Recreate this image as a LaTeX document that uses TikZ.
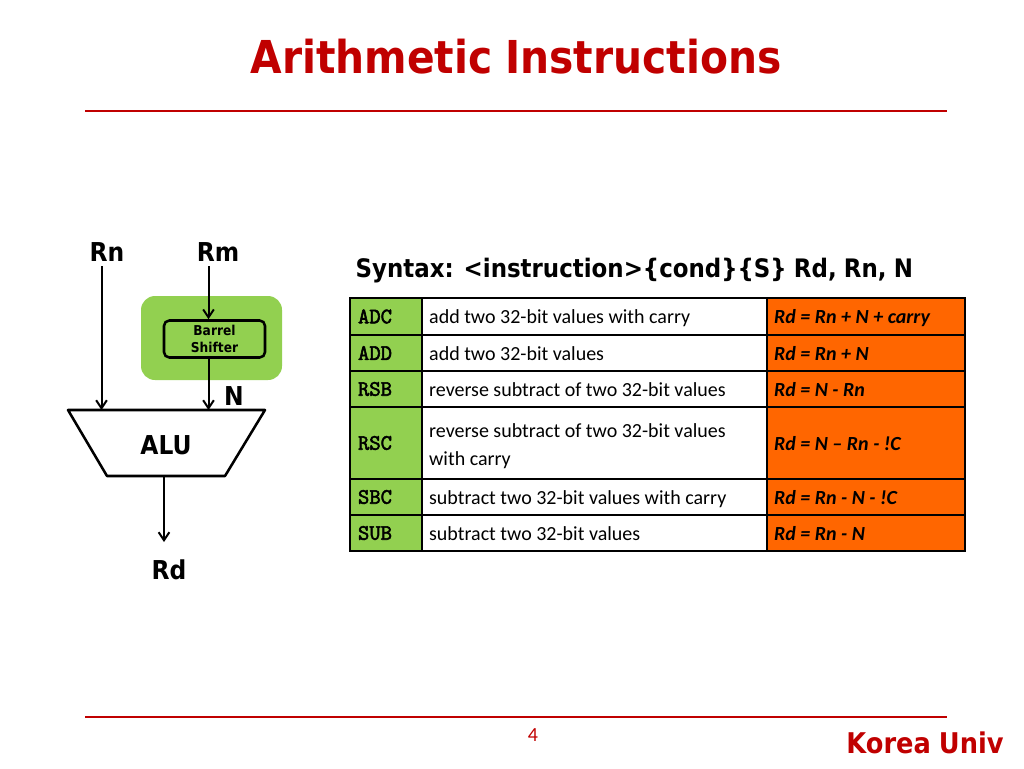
\documentclass[tikz,border=0pt]{standalone}
\usepackage{fontspec}
\setmainfont{Carlito}
\newfontfamily\labelfont{DejaVu Sans}[FakeStretch=0.9,WordSpace=0.9]
\newfontfamily\opcodefont{Latin Modern Mono}[FakeBold=2.5]
\usetikzlibrary{arrows.meta}
\definecolor{titlered}{RGB}{192,0,0}
\definecolor{shiftergreen}{RGB}{146,208,80}
\definecolor{resultorange}{RGB}{255,102,0}
\tikzset{
  sig/.style={line width=1.5pt,-{Straight Barb[length=6pt,width=8pt]}},
  sigplain/.style={line width=1.9pt},
  rulered/.style={color=titlered,line width=1.5pt},
  lbl/.style={font=\labelfont\bfseries\fontsize{19.5}{22}\selectfont},
  opcell/.style={draw=black,line width=0.8pt,fill=shiftergreen,minimum width=54pt,text width=42pt,align=flush left,inner sep=0pt,font=\opcodefont\fontsize{16.5}{18}\selectfont},
  desccell/.style={draw=black,line width=0.8pt,fill=white,minimum width=258.75pt,text width=248pt,align=flush left,inner sep=0pt,font=\fontsize{15}{21}\selectfont,execute at begin node={\rule[-3.5pt]{0pt}{18pt}}},
  rescell/.style={draw=black,line width=0.8pt,fill=resultorange,minimum width=148.5pt,text width=138pt,align=flush left,inner sep=0pt,font=\bfseries\itshape\fontsize{15}{18}\selectfont,execute at begin node={\rule[-3.5pt]{0pt}{18pt}}},
  rowa/.style={minimum height=27pt},
  rowb/.style={minimum height=54pt},
}
\begin{document}
\begin{tikzpicture}[x=0.75pt,y=0.75pt,yscale=-1,xscale=1]
\useasboundingbox (0,0) rectangle (1024,768);

%Title and rules
\node (title) [color=titlered,font=\labelfont\bfseries\fontsize{34}{38}\selectfont] at (516,57) {Arithmetic Instructions};
\coordinate (toprulel) at (85,111);
\coordinate (topruler) at (947,111);
\draw [rulered] (toprulel) -- (topruler);
\coordinate (botrulel) at (85,717);
\coordinate (botruler) at (947,717);
\draw [rulered] (botrulel) -- (botruler);
\node (pagenum) [color=titlered,font=\fontsize{15}{18}\selectfont] at (533,735) {4};
\node (univ) [color=titlered,font=\labelfont\bfseries\fontsize{21.4}{24}\selectfont] at (925,743) {Korea Univ};

%Shape: Rounded Rect
\node (shifterbg) [fill=shiftergreen,rounded corners=10.5pt,minimum width=105.75pt,minimum height=63pt,inner sep=0pt] at (211.5,338) {};
\node (shifter) [draw=black,sigplain,rounded corners=4pt,minimum width=75.75pt,minimum height=27.75pt,inner sep=0pt,align=center,font=\labelfont\bfseries\fontsize{10.2}{12.5}\selectfont] at (214.5,339) {Barrel\\Shifter};

%Shape: ALU
\coordinate (alutl) at (68,410);
\coordinate (alutr) at (265,410);
\coordinate (alubr) at (225,476);
\coordinate (alubl) at (107,476);
\draw [sigplain,line join=round] (alutl) -- (alutr) -- (alubr) -- (alubl) -- cycle;
\node (alu) [lbl] at (166,445) {ALU};

%Labels
\node (rn) [lbl] at (107,252) {Rn};
\node (rm) [lbl] at (218,252) {Rm};
\node (n) [lbl] at (234,396) {N};
\node (rd) [lbl] at (169,570) {Rd};

%Arrows
\coordinate (aluinl) at (101.5,410);
\coordinate (aluinr) at (208.5,410);
\coordinate (aluout) at (164,476);
\coordinate (rdend) at (164,542);
\draw [sig] (aluinl |- 0,266) -- (aluinl);
\draw [sig] (aluinr |- 0,266) -- (aluinr |- shifter.north);
\draw [sig] (aluinr |- shifter.south) -- (aluinr);
\draw [sig] (aluout) -- (rdend);

%Table
\node (syntax) [anchor=west,font=\labelfont\bfseries\fontsize{19.1}{22}\selectfont] at (351,271) {Syntax: <instruction>\{cond\}\{S\} Rd, Rn, N};

\node (opadc) [opcell,rowa] at (386,316.5) {ADC};
\node (opadd) [opcell,rowa] at (386,353) {ADD};
\node (oprsb) [opcell,rowa] at (386,389) {RSB};
\node (oprsc) [opcell,rowb] at (386,443) {RSC};
\node (opsbc) [opcell,rowa] at (386,497) {SBC};
\node (opsub) [opcell,rowa] at (386,533) {SUB};

\node (descadc) [desccell,rowa] at (594.5,316.5) {add two 32-bit values with carry};
\node (descadd) [desccell,rowa] at (594.5,353) {add two 32-bit values};
\node (descrsb) [desccell,rowa] at (594.5,389) {reverse subtract of two 32-bit values};
\node (descrsc) [desccell,rowb] at (594.5,443) {reverse subtract of two 32-bit values\\with carry};
\node (descsbc) [desccell,rowa] at (594.5,497) {subtract two 32-bit values with carry};
\node (descsub) [desccell,rowa] at (594.5,533) {subtract two 32-bit values};

\node (resadc) [rescell,rowa] at (866,316.5) {Rd = Rn + N + carry};
\node (resadd) [rescell,rowa] at (866,353) {Rd = Rn + N};
\node (resrsb) [rescell,rowa] at (866,389) {Rd = N - Rn};
\node (resrsc) [rescell,rowb] at (866,443) {Rd = N – Rn - !C};
\node (ressbc) [rescell,rowa] at (866,497) {Rd = Rn - N - !C};
\node (ressub) [rescell,rowa] at (866,533) {Rd = Rn - N};

\draw [line width=1.5pt] (350,298) rectangle (965,551);
\end{tikzpicture}
\end{document}
